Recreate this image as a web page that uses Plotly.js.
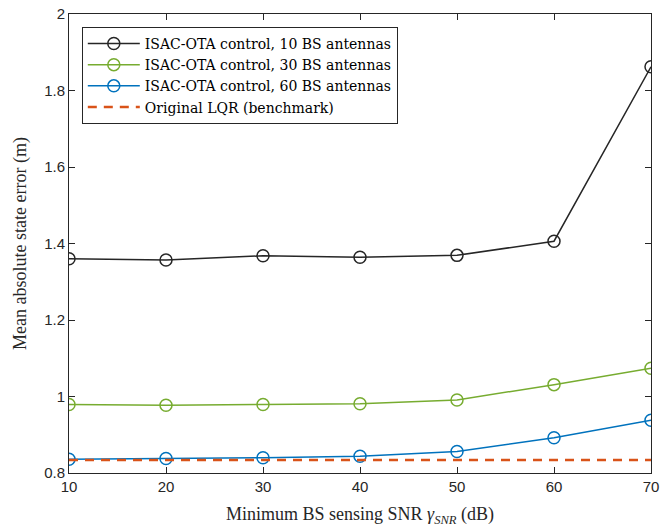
<!DOCTYPE html>
<html>
<head>
<meta charset="utf-8">
<script src="https://cdn.plot.ly/plotly-3.0.1.min.js"></script>
<style>html,body{margin:0;padding:0;background:#fff;}#chart{width:661px;height:527px;}</style>
</head>
<body>
<div id="chart"></div>
<script>
const snr = [10, 20, 30, 40, 50, 60, 70];
const ant10 = [1.360, 1.357, 1.368, 1.364, 1.369, 1.406, 1.862];
const ant30 = [0.979, 0.977, 0.979, 0.981, 0.991, 1.031, 1.074];
const ant60 = [0.836, 0.838, 0.840, 0.844, 0.856, 0.892, 0.938];
const lqr = [0.834, 0.834, 0.834, 0.834, 0.834, 0.834, 0.834];
const names = [
  'ISAC-OTA control, 10 BS antennas',
  'ISAC-OTA control, 30 BS antennas',
  'ISAC-OTA control, 60 BS antennas',
  'Original LQR (benchmark)'
];
const xTicks = [10, 20, 30, 40, 50, 60, 70];
const yTicks = [0.8, 1, 1.2, 1.4, 1.6, 1.8, 2];

const mk = (c) => ({symbol: 'circle-open', size: 12, color: c, line: {width: 1.5, color: c}});
const traces = [
  {x: snr, y: ant10, name: names[0], mode: 'lines+markers', line: {color: '#262626', width: 1.5}, marker: mk('#262626')},
  {x: snr, y: ant30, name: names[1], mode: 'lines+markers', line: {color: '#77AC30', width: 1.5}, marker: mk('#77AC30')},
  {x: snr, y: ant60, name: names[2], mode: 'lines+markers', line: {color: '#0072BD', width: 1.5}, marker: mk('#0072BD')},
  {x: snr, y: lqr, name: names[3], mode: 'lines', line: {color: '#D95319', width: 2.5, dash: '9px,7px'}}
];

const axisCommon = {
  showline: true, linecolor: '#262626', linewidth: 1, mirror: 'allticks',
  ticks: 'inside', ticklen: 6, tickcolor: '#262626', tickwidth: 1,
  showgrid: false, zeroline: false,
  tickfont: {family: 'Liberation Sans, Arial, sans-serif', size: 15, color: '#262626'}
};

const layout = {
  width: 661, height: 527,
  margin: {l: 69, r: 10, t: 14, b: 54},
  paper_bgcolor: '#fff', plot_bgcolor: '#fff',
  showlegend: true,
  xaxis: Object.assign({}, axisCommon, {
    range: [10, 70], tickvals: xTicks, ticktext: xTicks.map(String),
    title: {text: 'Minimum BS sensing SNR <i>γ</i><sub><i>SNR</i></sub> (dB)', standoff: 16,
      font: {family: 'Liberation Serif, Times New Roman, serif', size: 18, color: '#262626'}}
  }),
  yaxis: Object.assign({}, axisCommon, {
    range: [0.8, 2], tickvals: yTicks, ticktext: yTicks.map(v => String(v)),
    title: {text: 'Mean absolute state error (m)', standoff: 12,
      font: {family: 'Liberation Serif, Times New Roman, serif', size: 18, color: '#262626'}}
  }),
  legend: {
    x: 0.022, y: 0.972, xanchor: 'left', yanchor: 'top',
    bgcolor: '#fff', bordercolor: '#262626', borderwidth: 1,
    itemwidth: 52, tracegroupgap: 0,
    font: {family: 'DejaVu Serif, Liberation Serif, serif', size: 14, color: '#000'}
  }
};

Plotly.newPlot('chart', traces, layout, {displayModeBar: false, staticPlot: true});
</script>
</body>
</html>
